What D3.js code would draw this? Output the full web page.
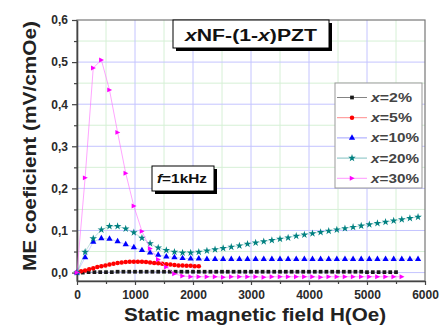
<!DOCTYPE html>
<html>
<head>
<meta charset="utf-8">
<script src="https://cdn.jsdelivr.net/npm/d3@7"></script>
<style>
  html, body { margin: 0; padding: 0; background: #fff; }
  svg { display: block; font-family: "Liberation Sans", Arial, sans-serif; }
</style>
</head>
<body>
<svg id="chart" width="446" height="325"></svg>
<script>
// Static magnetic field (Oe) sampling for each series
const fieldA = [0,140,280,420,560,700,840,980,1120,1260,1400,1540,1680,1820,1960,2100,2240,2380,2520,2660,
  2800,2940,3080,3220,3360,3500,3640,3780,3920,4060,4200,4340,4480,4620,4760,4900,5040,5180,5320,5460,
  5600,5740,5880];
const fieldRed = [0,70,140,210,280,350,420,490,560,630,700,770,840,910,980,1050,1120,1190,1260,1330,
  1400,1470,1540,1610,1680,1750,1820,1890,1960,2030,2100];
const fieldBlack = [0,100,200,300,400,500,600,700,800,900,1000,1100,1200,1300,1400,1500,1600,1700,1800,1900,
  2000,2100,2200,2300,2400,2500,2600,2700,2800,2900,3000,3100,3200,3300,3400,3500,3600,3700,3800,3900,
  4000,4100,4200,4300,4400,4500,4600,4700,4800,4900,5000,5100,5200,5300,5400,5500];
const fieldMagenta = [0,140,280,420,560,700,840,980,1120,1260,1400,1540,1680,1820,1960,2100,2240,2380,2520,2660,
  2800,2940,3080,3220,3360,3500,3640,3780,3920,4060,4200,4340,4480,4620,4760,4900,5040,5180,5320,5460,5600];

// ME coefficient (mV/cmOe)
const me2 = [0.000,0.000,0.001,0.001,0.001,0.001,0.001,0.002,0.002,0.002,0.002,0.002,0.002,0.002,0.002,0.002,
  0.002,0.002,0.002,0.002,0.002,0.002,0.002,0.002,0.002,0.002,0.002,0.002,0.002,0.002,0.002,0.002,0.002,0.002,
  0.002,0.002,0.002,0.002,0.002,0.002,0.002,0.002,0.002,0.002,0.002,0.002,0.002,0.002,0.002,0.002,0.001,0.001,
  0.001,0.001,0.001,0.001];
const me5 = [0.000,0.003,0.005,0.008,0.010,0.013,0.015,0.017,0.019,0.021,0.023,0.024,0.025,0.026,0.026,0.026,
  0.026,0.025,0.024,0.023,0.022,0.021,0.020,0.019,0.018,0.017,0.017,0.016,0.016,0.015,0.015];
const me10 = [0.000,0.036,0.073,0.081,0.080,0.074,0.067,0.060,0.053,0.047,0.042,0.038,0.036,0.034,0.033,
  0.033,0.032,0.032,0.032,0.032,0.032,0.032,0.032,0.032,0.032,0.032,0.032,0.032,0.032,0.032,0.032,0.032,
  0.032,0.032,0.032,0.032,0.032,0.032,0.032,0.032,0.032,0.032,0.032];
const me20 = [0.000,0.049,0.081,0.102,0.110,0.110,0.104,0.095,0.082,0.069,0.059,0.053,0.049,0.047,0.047,
  0.049,0.052,0.055,0.058,0.061,0.064,0.068,0.071,0.074,0.077,0.080,0.083,0.087,0.090,0.093,0.096,0.099,
  0.102,0.105,0.108,0.111,0.114,0.117,0.120,0.123,0.126,0.129,0.132];
const me30 = [0.000,0.225,0.486,0.505,0.434,0.333,0.236,0.158,0.098,0.057,0.031,0.013,-0.003,-0.008,-0.010,
  -0.010,-0.010,-0.010,-0.011,-0.010,-0.010,-0.010,-0.010,-0.011,-0.010,-0.010,-0.010,-0.010,-0.010,-0.010,
  -0.011,-0.010,-0.010,-0.010,-0.010,-0.010,-0.010,-0.010,-0.010,-0.010,-0.010];

const compositions = ["2%", "5%", "10%", "20%", "30%"];
const xTicks = [0, 1000, 2000, 3000, 4000, 5000, 6000];
const xMinorTicks = [500, 1500, 2500, 3500, 4500, 5500];
const yTicks = [0, 0.1, 0.2, 0.3, 0.4, 0.5, 0.6];
const yMinorTicks = [0.05, 0.15, 0.25, 0.35, 0.45, 0.55];

// marker shapes
const rightTriangle = {
  draw(context, size) {
    const h = Math.sqrt(size * 0.9);
    context.moveTo(h * 0.6, 0);
    context.lineTo(-h * 0.5, -h * 0.55);
    context.lineTo(-h * 0.5, h * 0.55);
    context.closePath();
  }
};

const series = [
  { field: fieldBlack,   values: me2,  color: "#1a1a1a", line: "#555555", lineOpacity: 0.4, symbol: d3.symbolSquare,   size: 14 },
  { field: fieldRed,     values: me5,  color: "#ff0000", line: "#ff6060", lineOpacity: 0.4, symbol: d3.symbolCircle,   size: 16 },
  { field: fieldA,       values: me10, color: "#0000ff", line: "#8080ff", lineOpacity: 0.4, symbol: d3.symbolTriangle, size: 17 },
  { field: fieldA,       values: me20, color: "#008080", line: "#50a8a8", lineOpacity: 0.4, symbol: d3.symbolStar,     size: 18 },
  { field: fieldMagenta, values: me30, color: "#ff00ff", line: "#ff70ff", lineOpacity: 0.7, symbol: rightTriangle,     size: 22 }
];

const svg = d3.select("#chart");
const plot = { left: 77, right: 425, top: 20, bottom: 281 };

const x = d3.scaleLinear().domain([0, 6000]).range([plot.left, plot.right]);
const y = d3.scaleLinear().domain([-0.02, 0.6]).range([plot.bottom, plot.top]);

// grid
const grid = svg.append("g");
grid.selectAll(".vminor").data(xMinorTicks).join("line")
  .attr("x1", d => x(d)).attr("x2", d => x(d))
  .attr("y1", plot.top).attr("y2", plot.bottom)
  .attr("stroke", "#d6f0d6").attr("stroke-width", 1);
grid.selectAll(".hminor").data(yMinorTicks).join("line")
  .attr("x1", plot.left).attr("x2", plot.right)
  .attr("y1", d => y(d)).attr("y2", d => y(d))
  .attr("stroke", "#d6f0d6").attr("stroke-width", 1);
grid.selectAll(".vmajor").data(xTicks.slice(1, -1)).join("line")
  .attr("x1", d => x(d)).attr("x2", d => x(d))
  .attr("y1", plot.top).attr("y2", plot.bottom)
  .attr("stroke", "#c4c4ff").attr("stroke-width", 1);
grid.selectAll(".hmajor").data(yTicks.slice(0, -1)).join("line")
  .attr("x1", plot.left).attr("x2", plot.right)
  .attr("y1", d => y(d)).attr("y2", d => y(d))
  .attr("stroke", "#c4c4ff").attr("stroke-width", 1);

// frame
svg.append("rect")
  .attr("x", plot.left).attr("y", plot.top)
  .attr("width", plot.right - plot.left).attr("height", plot.bottom - plot.top)
  .attr("fill", "none").attr("stroke", "#777").attr("stroke-width", 1.2);

// axes
const fmtY = d => d3.format(".1f")(d).replace(".", ",");
svg.append("g").attr("transform", `translate(${plot.left},0)`)
  .call(d3.axisLeft(y).tickValues(yTicks).tickFormat(fmtY).tickSize(5).tickSizeOuter(0).tickPadding(4));
svg.append("g").attr("transform", `translate(${plot.left},0)`)
  .call(d3.axisLeft(y).tickValues(yMinorTicks).tickFormat("").tickSize(3).tickSizeOuter(0))
  .call(g => g.select(".domain").remove());
svg.append("g").attr("transform", `translate(0,${plot.bottom})`)
  .call(d3.axisBottom(x).tickValues(xTicks).tickFormat(d3.format("d")).tickSize(4).tickSizeOuter(0).tickPadding(5));
svg.append("g").attr("transform", `translate(0,${plot.bottom})`)
  .call(d3.axisBottom(x).tickValues(xMinorTicks).tickFormat("").tickSize(3).tickSizeOuter(0))
  .call(g => g.select(".domain").remove());

svg.selectAll(".tick line").attr("stroke", "#444").attr("stroke-width", 1.2);
svg.selectAll(".domain").attr("stroke", "#444").attr("stroke-width", 1.6);
svg.selectAll(".tick text")
  .attr("font-family", "'Liberation Sans', Arial, sans-serif")
  .attr("font-weight", "bold").attr("font-size", 12).attr("fill", "#2a2a2a");

// series lines and markers
const lineGen = d3.line().x(d => x(d[0])).y(d => y(d[1]));
series.forEach(s => {
  const pts = s.values.map((v, i) => [s.field[i], v]);
  svg.append("path").datum(pts)
    .attr("d", lineGen).attr("fill", "none")
    .attr("stroke", s.line).attr("stroke-width", 0.9).attr("opacity", s.lineOpacity);
  svg.append("g").selectAll("path").data(pts).join("path")
    .attr("d", d3.symbol().type(s.symbol).size(s.size))
    .attr("transform", d => `translate(${x(d[0])},${y(d[1])})`)
    .attr("fill", s.color);
});

// axis titles
svg.append("text")
  .attr("transform", "translate(36,146) rotate(-90)")
  .attr("text-anchor", "middle")
  .attr("font-weight", "bold").attr("font-size", 19).attr("fill", "#222")
  .attr("textLength", 250).attr("lengthAdjust", "spacingAndGlyphs")
  .text("ME coeficient (mV/cmOe)");
svg.append("text")
  .attr("x", 255).attr("y", 321)
  .attr("text-anchor", "middle")
  .attr("font-weight", "bold").attr("font-size", 19).attr("fill", "#222")
  .attr("textLength", 262).attr("lengthAdjust", "spacingAndGlyphs")
  .text("Static magnetic field H(Oe)");

// boxed annotation with drop shadow
function shadowBox(x0, y0, w, h) {
  svg.append("rect").attr("x", x0 + 3).attr("y", y0 + 3).attr("width", w).attr("height", h).attr("fill", "#000");
  svg.append("rect").attr("x", x0).attr("y", y0).attr("width", w).attr("height", h)
    .attr("fill", "#fff").attr("stroke", "#000").attr("stroke-width", 1);
}

shadowBox(173, 20, 156, 28);
const title = svg.append("text")
  .attr("x", 251).attr("y", 41).attr("text-anchor", "middle")
  .attr("font-weight", "bold").attr("font-size", 16).attr("fill", "#111")
  .attr("textLength", 132).attr("lengthAdjust", "spacingAndGlyphs");
title.append("tspan").attr("font-style", "italic").text("x");
title.append("tspan").text("NF-(1-");
title.append("tspan").attr("font-style", "italic").text("x");
title.append("tspan").text(")PZT");

shadowBox(152, 166, 62, 25);
const freq = svg.append("text")
  .attr("x", 157).attr("y", 183)
  .attr("font-weight", "bold").attr("font-size", 13).attr("fill", "#111")
  .attr("textLength", 50).attr("lengthAdjust", "spacingAndGlyphs");
freq.append("tspan").attr("font-style", "italic").text("f");
freq.append("tspan").text("=1kHz");

// legend
const legend = svg.append("g");
legend.append("rect")
  .attr("x", 335).attr("y", 83).attr("width", 87).attr("height", 105)
  .attr("fill", "#fff").attr("stroke", "#999").attr("stroke-width", 1);
series.forEach((s, i) => {
  const ly = 97.5 + i * 20.2;
  legend.append("line")
    .attr("x1", 337).attr("x2", 367).attr("y1", ly).attr("y2", ly)
    .attr("stroke", s.line).attr("stroke-width", 0.9).attr("opacity", 0.8);
  legend.append("path")
    .attr("d", d3.symbol().type(s.symbol).size(s.size))
    .attr("transform", `translate(352,${ly})`)
    .attr("fill", s.color);
  const t = legend.append("text")
    .attr("x", 371).attr("y", ly + 4.5)
    .attr("font-weight", "bold").attr("font-size", 12).attr("fill", "#444")
    .attr("textLength", compositions[i].length > 2 ? 48 : 41).attr("lengthAdjust", "spacingAndGlyphs");
  t.append("tspan").attr("font-style", "italic").text("x");
  t.append("tspan").text("=" + compositions[i]);
});
</script>
</body>
</html>
